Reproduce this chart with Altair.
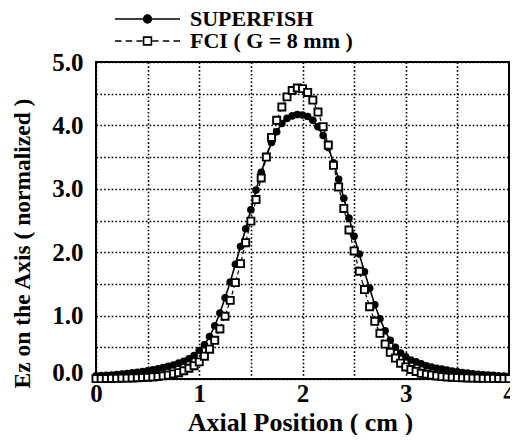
import altair as alt
import pandas as pd

# ---------------- data ----------------
x_cm = [0.00, 0.05, 0.10, 0.15, 0.20, 0.25, 0.30, 0.35, 0.40, 0.45,
        0.50, 0.55, 0.60, 0.65, 0.70, 0.75, 0.80, 0.85, 0.90, 0.95,
        1.00, 1.05, 1.10, 1.15, 1.20, 1.25, 1.30, 1.35, 1.40, 1.45,
        1.50, 1.55, 1.60, 1.65, 1.70, 1.75, 1.80, 1.85, 1.90, 1.95,
        2.00, 2.05, 2.10, 2.15, 2.20, 2.25, 2.30, 2.35, 2.40, 2.45,
        2.50, 2.55, 2.60, 2.65, 2.70, 2.75, 2.80, 2.85, 2.90, 2.95,
        3.00, 3.05, 3.10, 3.15, 3.20, 3.25, 3.30, 3.35, 3.40, 3.45,
        3.50, 3.55, 3.60, 3.65, 3.70, 3.75, 3.80, 3.85, 3.90, 3.95,
        4.00]

superfish = [0.049, 0.054, 0.058, 0.063, 0.070, 0.078, 0.087, 0.097, 0.107, 0.117,
             0.130, 0.145, 0.160, 0.180, 0.200, 0.220, 0.250, 0.280, 0.320, 0.370,
             0.450, 0.540, 0.670, 0.840, 1.040, 1.280, 1.530, 1.810, 2.090, 2.370,
             2.670, 2.980, 3.260, 3.510, 3.730, 3.900, 4.030, 4.110, 4.150, 4.170,
             4.165, 4.140, 4.080, 3.980, 3.840, 3.650, 3.410, 3.150, 2.850, 2.540,
             2.250, 1.970, 1.690, 1.430, 1.170, 0.950, 0.760, 0.610, 0.500, 0.410,
             0.350, 0.300, 0.270, 0.240, 0.210, 0.190, 0.170, 0.155, 0.140, 0.125,
             0.113, 0.100, 0.093, 0.083, 0.075, 0.067, 0.062, 0.057, 0.052, 0.047,
             0.043]

fci = [0.006, 0.007, 0.008, 0.009, 0.011, 0.013, 0.015, 0.017, 0.020, 0.024,
       0.028, 0.033, 0.040, 0.050, 0.062, 0.080, 0.100, 0.130, 0.170, 0.210,
       0.270, 0.360, 0.470, 0.610, 0.790, 0.990, 1.240, 1.520, 1.820, 2.150,
       2.490, 2.830, 3.170, 3.500, 3.810, 4.080, 4.290, 4.450, 4.550, 4.590,
       4.580, 4.520, 4.400, 4.210, 3.980, 3.690, 3.370, 3.030, 2.690, 2.350,
       2.020, 1.700, 1.410, 1.140, 0.910, 0.720, 0.550, 0.420, 0.330, 0.250,
       0.190, 0.150, 0.120, 0.090, 0.075, 0.060, 0.048, 0.038, 0.032, 0.027,
       0.023, 0.020, 0.017, 0.015, 0.013, 0.011, 0.010, 0.009, 0.008, 0.007,
       0.006]

series_names = ["SUPERFISH", "FCI ( G = 8 mm )"]
x_grid = [0, 0.5, 1, 1.5, 2, 2.5, 3, 3.5, 4]
y_grid = [0, 0.5, 1, 1.5, 2, 2.5, 3, 3.5, 4, 4.5, 5]

df = pd.DataFrame({
    "x": x_cm + x_cm,
    "y": superfish + fci,
    "series": [series_names[0]] * len(x_cm) + [series_names[1]] * len(x_cm),
})

FONT = "Liberation Serif"

# legend symbols: line + marker drawn as custom paths
sym_sf = ("M-1,0L-0.12,0M0.12,0L1,0"
          "M-0.12,0A0.12,0.12,0,1,1,0.12,0A0.12,0.12,0,1,1,-0.12,0Z")
sym_fci = ("M-1,0L-0.8,0M-0.67,0L-0.47,0M-0.34,0L-0.15,0"
           "M0.15,0L0.34,0M0.47,0L0.67,0M0.8,0L1,0"
           "M-0.12,-0.12L0.12,-0.12L0.12,0.12L-0.12,0.12Z")

x_enc = alt.X(
    "x:Q",
    scale=alt.Scale(domain=[0, 4], nice=False, zero=False),
    axis=alt.Axis(
        values=x_grid,
        labelExpr="datum.value % 1 == 0 ? format(datum.value, 'd') : ''",
        title="Axial Position ( cm )",
        grid=True, ticks=False, domain=False,
        labelFont=FONT, labelFontSize=25, labelFontWeight="bold", labelColor="black",
        labelPadding=2, labelFlush=False, labelOverlap=False, labelBound=False,
        titleFont=FONT, titleFontSize=26, titleFontWeight="bold", titleColor="black",
        titleX=204, titleY=51, titleBaseline="alphabetic",
    ),
)
y_enc = alt.Y(
    "y:Q",
    scale=alt.Scale(domain=[0, 5], nice=False, zero=False),
    axis=alt.Axis(
        values=y_grid,
        labelExpr="datum.value % 1 == 0 ? format(datum.value, '.1f') : ''",
        title="Ez on the Axis ( normalized )",
        grid=True, ticks=False, domain=False,
        labelFont=FONT, labelFontSize=25, labelFontWeight="bold", labelColor="black",
        labelPadding=13, labelOverlap=False, labelBound=False, labelFlush=False,
        labelOffset={"condition": {"test": "datum.value == 0", "value": -7}, "value": 0},
        titleFont=FONT, titleFontSize=23.5, titleFontWeight="bold", titleColor="black",
        titleX=-74, titleY=181, titleAlign="center", titleBaseline="middle",
    ),
)

base = alt.Chart(df)

sf_line = base.transform_filter(alt.datum.series == series_names[0]).mark_line(
    color="black", strokeWidth=1.6
).encode(x=x_enc, y=y_enc)

sf_pts = base.transform_filter(alt.datum.series == series_names[0]).mark_point(
    shape="circle", filled=True, color="black", size=58, opacity=1
).encode(x=x_enc, y=y_enc)

fci_line = base.transform_filter(alt.datum.series == series_names[1]).mark_line(
    color="black", strokeWidth=1.2, strokeDash=[4, 3]
).encode(x=x_enc, y=y_enc)

fci_pts = base.transform_filter(alt.datum.series == series_names[1]).mark_point(
    shape="square", filled=True, fill="white", stroke="black", strokeWidth=1.9,
    size=50, opacity=1
).encode(x=x_enc, y=y_enc)

leg = alt.Legend(
    title=None, orient="none", legendX=18, legendY=-54, padding=0,
    labelFont=FONT, labelFontSize=22, labelFontWeight="bold", labelColor="black",
    labelOffset=9, symbolSize=4225, symbolStrokeWidth=1.6, symbolStrokeColor="black",
    symbolOpacity=1, clipHeight=22, rowPadding=0, labelLimit=400,
)

legend_layer = base.transform_filter("false").mark_point(
    filled=True, stroke="black", strokeWidth=1.6, opacity=1, size=4225
).encode(
    shape=alt.Shape("series:N", scale=alt.Scale(domain=series_names, range=[sym_sf, sym_fci]), legend=leg),
    fill=alt.Fill("series:N", scale=alt.Scale(domain=series_names, range=["black", "white"]), legend=leg),
    stroke=alt.Stroke("series:N", scale=alt.Scale(domain=series_names, range=["black", "black"]), legend=leg),
)

chart = alt.layer(sf_line, fci_line, sf_pts, fci_pts, legend_layer).properties(
    width=413, height=317,
    autosize=alt.AutoSizeParams(type="none"),
    padding={"left": 88, "top": 54, "right": 1, "bottom": 56},
    background="white",
).configure_view(
    stroke="black", strokeWidth=2
).configure_axis(
    gridColor="black", gridDash=[1.6, 2.2], gridWidth=1.6, gridOpacity=1,
)

chart.save("out.html", embed_options={"renderer": "svg", "actions": False})
